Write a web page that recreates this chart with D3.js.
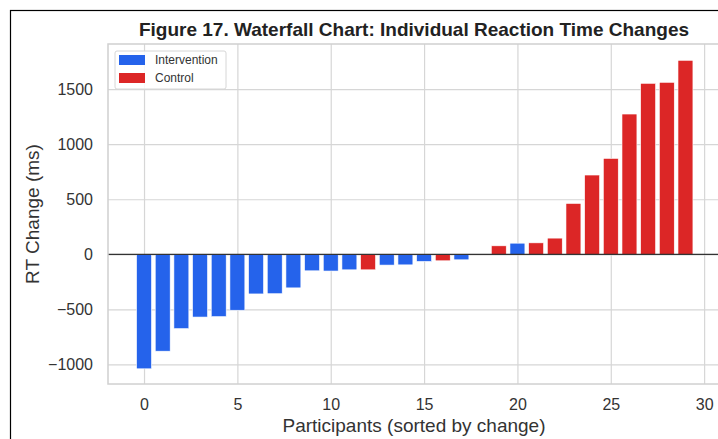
<!DOCTYPE html>
<html>
<head>
<meta charset="utf-8">
<script src="https://cdn.jsdelivr.net/npm/d3@7"></script>
<style>
  body { margin: 0; background: #fff; }
  svg text { font-family: "Liberation Sans", Arial, sans-serif; }
  .axis path, .axis line { display: none; }
  .axis text { fill: #333; font-size: 16px; }
  .grid line { stroke: #d6d6d6; stroke-width: 1.2; }
  .grid path { display: none; }
</style>
</head>
<body>
<div id="chart"></div>
<script>
// participants sorted by change
const participants = d3.range(30);
const rtChange = [-1040, -880, -675, -570, -566, -508, -360, -358, -305, -150,
                  -152, -141, -141, -98, -96, -65, -59, -50, 0, 77,
                  101, 104, 147, 462, 720, 871, 1274, 1553, 1562, 1762];
const groups = ["Intervention", "Intervention", "Intervention", "Intervention", "Intervention",
                "Intervention", "Intervention", "Intervention", "Intervention", "Intervention",
                "Intervention", "Intervention", "Control", "Intervention", "Intervention",
                "Intervention", "Control", "Intervention", "Intervention", "Control",
                "Intervention", "Control", "Control", "Control", "Control",
                "Control", "Control", "Control", "Control", "Control"];
const xTicks = [0, 5, 10, 15, 20, 25, 30];
const yTicks = [-1000, -500, 0, 500, 1000, 1500];
const legendLabels = ["Intervention", "Control"];

const color = d3.scaleOrdinal()
    .domain(legendLabels)
    .range(["#2563eb", "#dc2626"]);

const W = 718, H = 439;
const margin = {top: 44, right: -2, bottom: 55, left: 108},
    width = W - margin.left - margin.right,
    height = H - margin.top - margin.bottom;

const svg = d3.select("#chart").append("svg")
    .attr("width", W)
    .attr("height", H);

// outer frame of the figure
svg.append("rect")
    .attr("x", 10.5).attr("y", 10.5)
    .attr("width", 720).attr("height", 440)
    .attr("fill", "none").attr("stroke", "#000").attr("stroke-width", 1.2);

const g = svg.append("g")
    .attr("transform", `translate(${margin.left},${margin.top})`);

const x = d3.scaleLinear().domain([-1.93, 30.85]).range([0, width]);
const y = d3.scaleLinear().domain([-1178, 1910]).range([height, 0]);

// grid
g.append("g").attr("class", "grid")
    .attr("transform", `translate(0,${height})`)
    .call(d3.axisBottom(x).tickValues(xTicks).tickSize(-height).tickFormat(""));
g.append("g").attr("class", "grid")
    .call(d3.axisLeft(y).tickValues(yTicks).tickSize(-width).tickFormat(""));

// bars
const bw = x(0.8) - x(0);
g.selectAll("rect.bar")
    .data(participants)
  .enter().append("rect")
    .attr("class", "bar")
    .attr("x", d => x(d) - bw / 2)
    .attr("width", bw)
    .attr("y", d => y(Math.max(0, rtChange[d])))
    .attr("height", d => Math.abs(y(rtChange[d]) - y(0)))
    .attr("fill", d => color(groups[d]))
    .attr("stroke", "#fff")
    .attr("stroke-width", 0.6);

// zero line
g.append("line")
    .attr("x1", 0).attr("x2", width)
    .attr("y1", y(0)).attr("y2", y(0))
    .attr("stroke", "#333").attr("stroke-width", 1.2);

// spines
g.append("rect")
    .attr("width", width).attr("height", height)
    .attr("fill", "none").attr("stroke", "#d0d0d0").attr("stroke-width", 1.5);

// axes
g.append("g").attr("class", "axis")
    .attr("transform", `translate(0,${height})`)
    .call(d3.axisBottom(x).tickValues(xTicks).tickSize(0).tickPadding(15).tickFormat(d3.format("d")));
g.append("g").attr("class", "axis")
    .call(d3.axisLeft(y).tickValues(yTicks).tickSize(0).tickPadding(15)
        .tickFormat(d => d < 0 ? "\u2212" + Math.abs(d) : d));

// title and labels
svg.append("text")
    .attr("x", 414).attr("y", 36)
    .attr("text-anchor", "middle")
    .style("font-size", "19px").style("font-weight", "bold").style("fill", "#222")
    .text("Figure 17. Waterfall Chart: Individual Reaction Time Changes");

svg.append("text")
    .attr("x", 414).attr("y", 432)
    .attr("text-anchor", "middle")
    .style("font-size", "19px").style("fill", "#333")
    .text("Participants (sorted by change)");

svg.append("text")
    .attr("transform", "translate(39,214) rotate(-90)")
    .attr("text-anchor", "middle")
    .style("font-size", "19px").style("fill", "#333")
    .text("RT Change (ms)");

// legend
const legend = svg.append("g").attr("transform", "translate(115,51)");
legend.append("rect")
    .attr("width", 111).attr("height", 38).attr("rx", 2)
    .attr("fill", "#fff").attr("fill-opacity", 0.85)
    .attr("stroke", "#d6d6d6");
legendLabels.forEach(function(l, i) {
  legend.append("rect")
      .attr("x", 4).attr("y", 4 + i * 18)
      .attr("width", 26).attr("height", 10)
      .attr("fill", color(l));
  legend.append("text")
      .attr("x", 40).attr("y", 13 + i * 18)
      .style("font-size", "12px").style("fill", "#333")
      .text(l);
});
</script>
</body>
</html>
